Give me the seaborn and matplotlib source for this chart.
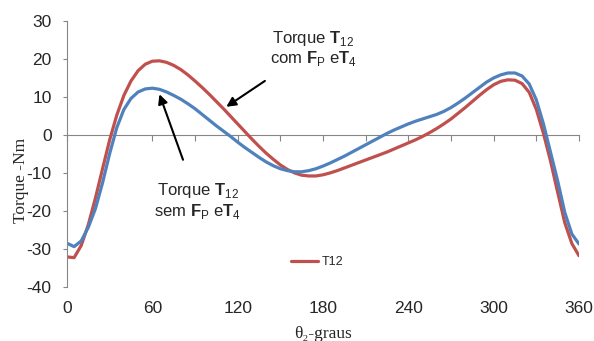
import numpy as np
import pandas as pd
import seaborn as sns
import matplotlib.pyplot as plt

# crank angle theta2 in degrees, every 5 degrees
theta = list(range(0, 361, 5))

# T12 with Fp and T4 (red)
t12_com = [-32.0, -32.2, -29.0, -23.5, -16.5, -8.8, -1.2, 5.3, 10.5, 14.3,
           17.0, 18.7, 19.5, 19.6, 19.2, 18.4, 17.3, 15.9, 14.3, 12.6,
           10.8, 8.9, 7.0, 5.0, 3.0, 1.0, -1.0, -2.9, -4.7, -6.3,
           -7.8, -9.0, -9.9, -10.5, -10.7, -10.7, -10.4, -9.9, -9.3, -8.6,
           -7.9, -7.2, -6.5, -5.8, -5.1, -4.4, -3.6, -2.8, -2.0, -1.2,
           -0.3, 0.7, 1.8, 3.0, 4.3, 5.8, 7.3, 8.9, 10.5, 12.0,
           13.3, 14.2, 14.6, 14.5, 13.6, 11.3, 6.8, 0.5, -6.8, -15.0,
           -23.0, -28.5, -31.7]

# T12 without Fp and T4 (blue)
t12_sem = [-28.4, -29.3, -27.8, -24.2, -19.3, -12.5, -4.8, 2.0, 6.8, 9.7,
           11.4, 12.2, 12.4, 12.1, 11.4, 10.5, 9.5, 8.3, 7.0, 5.5,
           4.0, 2.5, 1.1, -0.3, -1.8, -3.2, -4.5, -5.8, -7.0, -8.0,
           -8.8, -9.3, -9.6, -9.6, -9.3, -8.8, -8.1, -7.3, -6.4, -5.5,
           -4.5, -3.5, -2.5, -1.5, -0.5, 0.5, 1.4, 2.2, 3.0, 3.7,
           4.3, 4.9, 5.5, 6.3, 7.3, 8.5, 9.8, 11.2, 12.6, 14.0,
           15.1, 15.9, 16.4, 16.4, 15.6, 13.5, 9.3, 3.0, -4.5, -12.0,
           -20.3, -26.0, -28.6]

x_labels = [0, 60, 120, 180, 240, 300, 360]
y_ticks = [-40, -30, -20, -10, 0, 10, 20, 30]

df = pd.DataFrame({'theta': theta, 'com': t12_com, 'sem': t12_sem})

sns.set_style('white')
plt.rcParams['font.family'] = ['Liberation Sans', 'DejaVu Sans']
plt.rcParams['axes.unicode_minus'] = False
plt.rcParams['mathtext.fontset'] = 'custom'
plt.rcParams['mathtext.rm'] = 'Liberation Sans'
plt.rcParams['mathtext.bf'] = 'Liberation Sans:bold'

red = '#C0504D'
blue = '#4F81BD'
grey = '#868686'

fig = plt.figure(figsize=(5.94, 3.41), dpi=100)
ax = fig.add_axes([67 / 594, 1 - 287.3 / 341, 512 / 594, 266 / 341])

sns.lineplot(data=df, x='theta', y='com', color=red, lw=2.3, label='T12', ax=ax)
sns.lineplot(data=df, x='theta', y='sem', color=blue, lw=2.3, legend=False, ax=ax)

ax.set_xlim(0, 360)
ax.set_ylim(-40, 30)
ax.set_yticks(y_ticks)
ax.set_xticks(np.arange(0, 361, 30))
ax.set_xticklabels([])
ax.set_xlabel('')

for s in ['top', 'right']:
    ax.spines[s].set_visible(False)
ax.spines['bottom'].set_position(('data', 0))
ax.spines['bottom'].set_color(grey)
ax.spines['left'].set_color(grey)
ax.spines['bottom'].set_zorder(0)
ax.tick_params(axis='x', direction='out', length=4, color=grey, bottom=True)
ax.tick_params(axis='y', direction='out', length=3, color=grey, left=True,
               labelsize=12.5, pad=8)

sec = ax.secondary_xaxis('bottom')
sec.set_xticks(x_labels)
sec.tick_params(length=0, labelsize=12.5, pad=10)
sec.spines['bottom'].set_visible(False)
sec.set_xlabel('θ₂-graus', family=['Liberation Serif', 'DejaVu Serif'],
               fontsize=12.5, labelpad=7)

ax.set_ylabel('Torque -Nm', family=['Liberation Serif', 'DejaVu Serif'],
              fontsize=12.5)
ax.yaxis.set_label_coords(-0.074, 0.4)

ax.legend(loc='center left', bbox_to_anchor=(0.415, 0.095), frameon=False,
          fontsize=9, handlelength=2.2, handletextpad=0.3)

ax.annotate('Torque $\\mathbf{T}_{12}$\ncom $\\mathbf{F}_{\\mathrm{P}}$ e$\\mathbf{T}_{4}$',
            xy=(112, 7.5), xytext=(173, 22.8), ha='center', va='center',
            fontsize=12, linespacing=1.1,
            arrowprops=dict(arrowstyle='-|>', color='black', lw=1.5,
                            shrinkA=12, shrinkB=0, mutation_scale=14))
ax.annotate('Torque $\\mathbf{T}_{12}$\nsem $\\mathbf{F}_{\\mathrm{P}}$ e$\\mathbf{T}_{4}$',
            xy=(65, 10.8), xytext=(92, -17.3), ha='center', va='center',
            fontsize=12, linespacing=1.1,
            arrowprops=dict(arrowstyle='-|>', color='black', lw=1.5,
                            shrinkA=14, shrinkB=0, mutation_scale=14))

fig.savefig('out.png', dpi=100)
